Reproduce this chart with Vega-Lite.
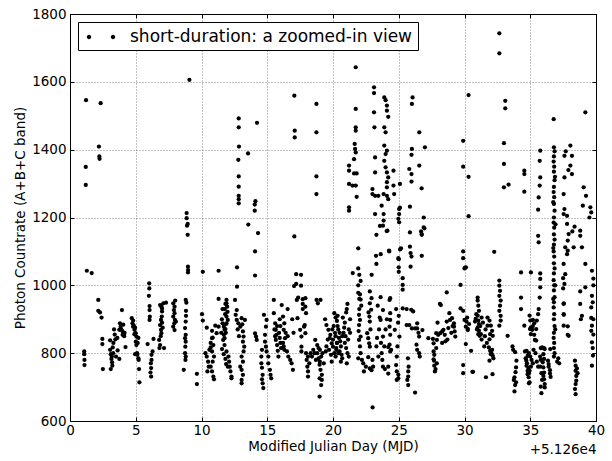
{
"$schema": "https://vega.github.io/schema/vega-lite/v6.json",
"autosize": {"type": "none"},
"width": 526, "height": 407,
"padding": {"left": 70, "top": 14, "right": 16, "bottom": 40},
"background": "white",
"data": {"values": [
{"x":1.08,"y":805},{"x":1.08,"y":797},{"x":1.1,"y":780},{"x":1.1,"y":765},{"x":1.2,"y":1349},{"x":1.2,"y":1296},{"x":1.22,"y":1546},{"x":1.28,"y":1043},{"x":1.65,"y":1036},{"x":2.15,"y":957},{"x":2.15,"y":925},{"x":2.2,"y":1409},{"x":2.23,"y":1380},{"x":2.25,"y":1373},{"x":2.28,"y":920},{"x":2.33,"y":1537},{"x":2.4,"y":905},{"x":2.46,"y":842},{"x":2.46,"y":827},{"x":2.5,"y":753},{"x":3.05,"y":838},{"x":3.05,"y":810},{"x":3.1,"y":797},{"x":3.1,"y":753},{"x":3.15,"y":783},{"x":3.2,"y":773},{"x":3.22,"y":763},{"x":3.25,"y":817},{"x":3.28,"y":800},{"x":3.35,"y":870},{"x":3.4,"y":855},{"x":3.45,"y":841},{"x":3.5,"y":790},{"x":3.75,"y":869},{"x":3.75,"y":783},{"x":3.8,"y":888},{"x":3.85,"y":878},{"x":3.95,"y":927},{"x":4.0,"y":864},{"x":4.0,"y":854},{"x":4.1,"y":856},{"x":4.12,"y":850},{"x":4.22,"y":818},{"x":4.8,"y":896},{"x":4.85,"y":881},{"x":4.9,"y":856},{"x":4.95,"y":797},{"x":4.95,"y":875},{"x":3.3,"y":830},{"x":3.6,"y":845},{"x":3.9,"y":870},{"x":4.05,"y":884},{"x":4.15,"y":860},{"x":3.18,"y":790},{"x":3.62,"y":808},
{"x":4.7,"y":903},{"x":4.75,"y":888},{"x":4.8,"y":878},{"x":4.9,"y":869},{"x":5.0,"y":859},{"x":5.05,"y":849},{"x":5.0,"y":834},{"x":5.05,"y":824},{"x":5.1,"y":800},{"x":5.12,"y":795},{"x":5.2,"y":785},{"x":5.22,"y":780},{"x":5.25,"y":753},{"x":5.28,"y":714},{"x":5.15,"y":830},{"x":5.2,"y":845},{"x":5.9,"y":827},
{"x":6.02,"y":1006},{"x":6.03,"y":991},{"x":6.0,"y":969},{"x":6.05,"y":939},{"x":6.05,"y":927},{"x":6.07,"y":908},{"x":6.05,"y":898},{"x":6.35,"y":842},{"x":6.2,"y":795},{"x":6.2,"y":780},{"x":6.15,"y":770},{"x":6.17,"y":756},{"x":6.12,"y":743},{"x":6.17,"y":731},{"x":6.28,"y":805},
{"x":6.85,"y":942},{"x":6.95,"y":937},{"x":7.0,"y":932},{"x":7.0,"y":923},{"x":6.98,"y":908},{"x":6.92,"y":898},{"x":6.85,"y":883},{"x":6.92,"y":869},{"x":6.95,"y":859},{"x":6.78,"y":839},{"x":6.85,"y":824},{"x":6.8,"y":815},{"x":7.15,"y":815},{"x":7.1,"y":947},{"x":7.3,"y":949},{"x":6.9,"y":850},{"x":7.05,"y":875},{"x":7.0,"y":890},
{"x":7.85,"y":947},{"x":7.95,"y":937},{"x":7.9,"y":927},{"x":7.95,"y":918},{"x":7.85,"y":908},{"x":7.98,"y":898},{"x":7.93,"y":888},{"x":7.85,"y":878},{"x":8.0,"y":955},{"x":8.05,"y":893},{"x":7.95,"y":868},
{"x":8.8,"y":957},{"x":8.85,"y":949},{"x":8.8,"y":893},{"x":8.75,"y":874},{"x":8.8,"y":854},{"x":8.75,"y":844},{"x":8.8,"y":834},{"x":8.77,"y":819},{"x":8.75,"y":800},{"x":8.78,"y":780},{"x":8.65,"y":751},{"x":8.82,"y":925},{"x":8.82,"y":910},{"x":8.8,"y":790},
{"x":8.95,"y":1181},{"x":8.95,"y":1149},{"x":8.97,"y":1055},{"x":8.98,"y":1045},{"x":8.97,"y":1038},{"x":8.87,"y":1213},{"x":8.87,"y":1198},{"x":8.9,"y":1176},{"x":9.08,"y":1606},{"x":9.65,"y":739},{"x":9.65,"y":709},
{"x":10.1,"y":896},{"x":10.1,"y":1040},{"x":10.4,"y":875},{"x":10.4,"y":790},{"x":10.5,"y":775},{"x":10.55,"y":760},{"x":10.45,"y":746},{"x":10.8,"y":844},{"x":10.9,"y":824},{"x":10.8,"y":805},{"x":10.95,"y":790},{"x":10.85,"y":775},{"x":10.7,"y":760},{"x":10.8,"y":746},{"x":10.9,"y":731},{"x":10.95,"y":723},{"x":10.3,"y":800},{"x":10.6,"y":810},{"x":10.7,"y":830},{"x":11.15,"y":859},{"x":11.3,"y":878},{"x":11.3,"y":960},{"x":11.3,"y":1043},{"x":10.04,"y":915},{"x":10.8,"y":866},{"x":11.05,"y":881},{"x":10.85,"y":846},{"x":10.7,"y":817},
{"x":11.55,"y":900},{"x":11.6,"y":888},{"x":11.7,"y":878},{"x":11.75,"y":869},{"x":11.7,"y":854},{"x":11.65,"y":839},{"x":11.75,"y":824},{"x":11.9,"y":805},{"x":11.9,"y":957},{"x":11.9,"y":947},{"x":11.95,"y":937},{"x":11.98,"y":922},{"x":11.9,"y":908},{"x":12.0,"y":898},{"x":11.9,"y":888},{"x":11.75,"y":844},{"x":11.85,"y":860},{"x":11.8,"y":915},{"x":11.6,"y":930},{"x":11.5,"y":860},{"x":11.82,"y":945},{"x":11.77,"y":930},{"x":11.87,"y":886},{"x":11.82,"y":871},{"x":11.69,"y":797},{"x":11.82,"y":783},{"x":11.87,"y":768},{"x":11.56,"y":812},
{"x":12.05,"y":790},{"x":12.1,"y":775},{"x":12.15,"y":760},{"x":12.2,"y":746},{"x":12.28,"y":731},{"x":12.28,"y":726},{"x":12.0,"y":760},
{"x":12.55,"y":957},{"x":12.68,"y":927},{"x":12.6,"y":913},{"x":12.68,"y":898},{"x":12.8,"y":888},{"x":12.95,"y":878},{"x":13.05,"y":903},{"x":13.3,"y":898},{"x":13.15,"y":864},{"x":13.2,"y":849},{"x":13.15,"y":834},{"x":13.25,"y":819},{"x":13.2,"y":805},{"x":13.05,"y":790},{"x":13.15,"y":775},{"x":12.95,"y":760},{"x":13.05,"y":751},{"x":13.15,"y":736},{"x":13.05,"y":721},{"x":13.05,"y":711},{"x":12.7,"y":1053},{"x":12.7,"y":996},{"x":12.75,"y":870},{"x":12.85,"y":850},{"x":13.1,"y":885},
{"x":12.83,"y":1492},{"x":12.83,"y":1466},{"x":12.85,"y":1409},{"x":12.8,"y":1370},{"x":12.83,"y":1321},{"x":12.83,"y":1291},{"x":12.83,"y":1264},{"x":12.83,"y":1254},{"x":12.83,"y":1242},{"x":13.54,"y":1389},{"x":13.56,"y":1179},{"x":14.22,"y":1479},{"x":14.1,"y":1248},{"x":14.05,"y":1238},{"x":14.05,"y":1220},{"x":14.3,"y":1154},{"x":14.07,"y":1100},{"x":14.07,"y":1029},
{"x":14.07,"y":858},{"x":14.15,"y":849},{"x":14.2,"y":839},{"x":14.6,"y":810},{"x":14.55,"y":790},{"x":14.55,"y":770},{"x":14.6,"y":757},{"x":14.65,"y":736},{"x":14.6,"y":723},{"x":14.65,"y":711},{"x":14.7,"y":697},{"x":14.75,"y":913},{"x":14.95,"y":898},{"x":14.9,"y":878},{"x":14.83,"y":854},{"x":14.83,"y":834},{"x":14.9,"y":819},{"x":14.95,"y":805},{"x":15.08,"y":790},{"x":15.08,"y":770},{"x":15.2,"y":751},{"x":15.25,"y":736},{"x":15.3,"y":726},
{"x":15.5,"y":957},{"x":15.5,"y":918},{"x":15.6,"y":888},{"x":15.65,"y":869},{"x":15.7,"y":854},{"x":15.65,"y":839},{"x":15.75,"y":824},{"x":15.8,"y":807},{"x":15.85,"y":790},{"x":15.55,"y":870},{"x":15.6,"y":850},{"x":15.75,"y":880},{"x":15.9,"y":860},{"x":15.95,"y":845},{"x":16.0,"y":830},{"x":16.05,"y":815},{"x":15.95,"y":900},{"x":16.0,"y":880},
{"x":16.1,"y":942},{"x":16.2,"y":908},{"x":16.3,"y":888},{"x":16.25,"y":869},{"x":16.35,"y":844},{"x":16.25,"y":820},{"x":16.5,"y":805},{"x":16.6,"y":790},{"x":16.75,"y":780},{"x":16.85,"y":770},{"x":16.95,"y":751},{"x":16.4,"y":860},{"x":16.55,"y":850},{"x":16.2,"y":830},{"x":16.3,"y":810},{"x":16.55,"y":930},{"x":16.9,"y":900},{"x":17.0,"y":860},
{"x":17.06,"y":1144},{"x":17.06,"y":1559},{"x":17.09,"y":1456},{"x":17.09,"y":1436},{"x":17.2,"y":1033},{"x":17.2,"y":1004},{"x":17.04,"y":998},{"x":17.35,"y":964},{"x":17.25,"y":957},{"x":17.3,"y":903},{"x":17.5,"y":869},{"x":17.6,"y":849},{"x":17.6,"y":819},{"x":17.6,"y":805},{"x":17.57,"y":1031},{"x":17.57,"y":999},{"x":17.7,"y":959},{"x":17.7,"y":945},{"x":17.7,"y":930},
{"x":17.9,"y":962},{"x":17.9,"y":937},{"x":17.95,"y":918},{"x":17.85,"y":883},{"x":17.8,"y":878},{"x":17.9,"y":859},{"x":18.0,"y":780},{"x":18.05,"y":760},{"x":18.1,"y":746},{"x":18.1,"y":731},{"x":17.95,"y":800},{"x":18.1,"y":790},{"x":18.2,"y":770},
{"x":18.74,"y":1535},{"x":18.74,"y":1451},{"x":18.74,"y":1321},{"x":18.74,"y":1269},{"x":18.75,"y":957},{"x":19.05,"y":957},{"x":18.85,"y":947},
{"x":18.65,"y":839},{"x":18.8,"y":824},{"x":18.9,"y":815},{"x":18.8,"y":800},{"x":18.9,"y":785},{"x":19.0,"y":775},{"x":18.98,"y":766},{"x":19.05,"y":751},{"x":19.15,"y":736},{"x":18.98,"y":726},{"x":19.15,"y":721},{"x":19.1,"y":706},{"x":18.98,"y":672},{"x":18.6,"y":800},{"x":18.5,"y":810},{"x":18.4,"y":790},{"x":18.3,"y":800},{"x":18.7,"y":780},{"x":19.0,"y":810},{"x":19.2,"y":800},{"x":19.1,"y":790},{"x":19.3,"y":770},
{"x":19.4,"y":900},{"x":19.5,"y":883},{"x":19.65,"y":869},{"x":19.8,"y":854},{"x":19.75,"y":844},{"x":19.9,"y":829},{"x":20.0,"y":819},{"x":20.1,"y":800},{"x":20.2,"y":790},{"x":19.6,"y":840},{"x":19.5,"y":820},{"x":19.45,"y":805},{"x":19.7,"y":810},{"x":19.95,"y":870},{"x":20.05,"y":880},{"x":20.15,"y":860},{"x":20.0,"y":840},{"x":19.85,"y":795},{"x":20.25,"y":810},{"x":20.3,"y":830},{"x":20.2,"y":850},{"x":19.9,"y":775},
{"x":20.1,"y":918},{"x":20.2,"y":905},{"x":20.3,"y":895},{"x":20.35,"y":880},{"x":20.4,"y":870},{"x":20.5,"y":860},{"x":20.45,"y":845},{"x":20.55,"y":835},{"x":20.6,"y":820},{"x":20.5,"y":805},{"x":20.65,"y":795},{"x":20.7,"y":785},{"x":20.8,"y":860},{"x":20.85,"y":875},{"x":20.9,"y":890},{"x":20.75,"y":905},{"x":21.0,"y":920},{"x":21.05,"y":930},{"x":21.1,"y":945},{"x":20.95,"y":850},{"x":20.9,"y":830},{"x":21.0,"y":815},{"x":21.1,"y":800},{"x":21.2,"y":790},{"x":21.15,"y":840},{"x":21.2,"y":870},{"x":20.3,"y":830},{"x":20.25,"y":815},{"x":20.4,"y":800},{"x":20.6,"y":775},{"x":20.7,"y":850},{"x":21.3,"y":860},{"x":21.3,"y":900},{"x":20.35,"y":910},{"x":21.05,"y":770},
{"x":21.73,"y":1643},{"x":21.73,"y":1520},{"x":21.73,"y":1466},{"x":21.73,"y":1456},{"x":21.65,"y":1417},{"x":21.68,"y":1402},{"x":21.73,"y":1392},{"x":21.6,"y":1372},{"x":21.22,"y":1353},{"x":21.22,"y":1338},{"x":21.6,"y":1330},{"x":21.8,"y":1330},{"x":21.22,"y":1299},{"x":21.48,"y":1294},{"x":21.73,"y":1294},{"x":21.8,"y":1261},{"x":21.22,"y":1230},{"x":21.22,"y":1220},
{"x":21.92,"y":1109},{"x":21.5,"y":1036},{"x":21.92,"y":1050},{"x":22.0,"y":1031},{"x":22.1,"y":1013},{"x":21.92,"y":1000},{"x":21.92,"y":978},{"x":22.05,"y":973},{"x":22.1,"y":958},{"x":22.15,"y":940},{"x":21.98,"y":913},{"x":22.05,"y":898},{"x":21.98,"y":883},{"x":22.1,"y":849},{"x":21.98,"y":839},{"x":21.92,"y":785},{"x":22.2,"y":780},{"x":22.0,"y":960},{"x":22.0,"y":930},{"x":21.95,"y":865},{"x":22.05,"y":820},{"x":22.1,"y":800},
{"x":22.94,"y":1031},{"x":23.01,"y":640},{"x":22.8,"y":982},{"x":22.93,"y":962},{"x":22.8,"y":947},{"x":22.9,"y":928},{"x":22.77,"y":908},{"x":22.8,"y":893},{"x":22.6,"y":859},{"x":22.68,"y":844},{"x":22.75,"y":829},{"x":22.8,"y":819},{"x":22.3,"y":770},{"x":22.35,"y":746},{"x":22.5,"y":760},{"x":22.68,"y":788},{"x":22.8,"y":755},{"x":22.93,"y":750},{"x":23.05,"y":760},{"x":23.0,"y":780},{"x":22.7,"y":920},{"x":22.85,"y":870},
{"x":23.27,"y":1087},{"x":23.57,"y":1175},{"x":23.3,"y":1149},{"x":24.08,"y":1160},{"x":24.28,"y":1100},
{"x":23.12,"y":1584},{"x":23.12,"y":1567},{"x":23.12,"y":1510},{"x":23.15,"y":1466},{"x":23.2,"y":1377},{"x":23.2,"y":1333},{"x":23.0,"y":1284},{"x":23.0,"y":1269},{"x":23.2,"y":1264},{"x":23.45,"y":1264},{"x":23.7,"y":1235},{"x":23.85,"y":1210},{"x":23.2,"y":1210},{"x":23.85,"y":1191},{"x":23.8,"y":1176},
{"x":23.9,"y":1554},{"x":24.0,"y":1546},{"x":24.1,"y":1530},{"x":24.1,"y":1515},{"x":24.2,"y":1497},{"x":23.9,"y":1466},{"x":24.0,"y":1451},{"x":23.9,"y":1412},{"x":24.1,"y":1397},{"x":24.0,"y":1387},{"x":23.9,"y":1367},{"x":24.0,"y":1348},{"x":24.1,"y":1333},{"x":24.2,"y":1318},{"x":24.1,"y":1304},{"x":24.1,"y":1289},{"x":23.85,"y":1269},{"x":24.1,"y":1264},{"x":24.2,"y":1254},
{"x":24.6,"y":1338},{"x":24.6,"y":1294},{"x":24.65,"y":1269},{"x":25.03,"y":1225},{"x":25.03,"y":1210},{"x":24.97,"y":1196},{"x":25.03,"y":1186},{"x":24.26,"y":1102},{"x":23.3,"y":1063},{"x":23.63,"y":1092},{"x":24.14,"y":1161},{"x":25.0,"y":1077},{"x":25.0,"y":1053},{"x":25.0,"y":1040},
{"x":23.62,"y":965},{"x":23.8,"y":927},{"x":23.62,"y":898},{"x":23.8,"y":849},{"x":23.8,"y":760},{"x":23.95,"y":753},{"x":24.2,"y":760},{"x":24.2,"y":740},{"x":24.3,"y":957},{"x":24.35,"y":962},{"x":24.35,"y":918},{"x":24.35,"y":898},{"x":24.3,"y":878},{"x":24.35,"y":854},{"x":24.3,"y":825},{"x":24.42,"y":810},{"x":24.35,"y":805},{"x":24.2,"y":818},{"x":23.7,"y":800},{"x":23.75,"y":780},{"x":23.9,"y":820},{"x":24.0,"y":870},{"x":24.1,"y":900},{"x":23.65,"y":830},{"x":23.5,"y":870},{"x":23.55,"y":905},{"x":23.4,"y":940},{"x":23.45,"y":790},{"x":23.3,"y":820},{"x":23.35,"y":845},
{"x":24.7,"y":869},{"x":24.97,"y":1080},{"x":25.1,"y":1106},{"x":25.17,"y":1109},{"x":25.3,"y":1021},{"x":25.3,"y":1001},{"x":25.3,"y":987},{"x":24.85,"y":790},{"x":24.8,"y":765},{"x":24.85,"y":746},{"x":24.97,"y":736},{"x":24.97,"y":726},{"x":24.85,"y":721},{"x":25.05,"y":849},{"x":24.9,"y":820},{"x":24.95,"y":890},{"x":25.0,"y":910},{"x":24.8,"y":930},
{"x":25.85,"y":1156},{"x":25.85,"y":1114},{"x":25.9,"y":1095},{"x":25.97,"y":1085},{"x":25.9,"y":1055},{"x":26.05,"y":1554},{"x":26.0,"y":1535},{"x":26.56,"y":1451},{"x":26.99,"y":1407},{"x":26.0,"y":1402},{"x":25.97,"y":1385},{"x":25.8,"y":1343},{"x":25.97,"y":1328},{"x":25.97,"y":1306},{"x":26.56,"y":1353},{"x":26.74,"y":1286},{"x":25.09,"y":1299},{"x":26.9,"y":1200},{"x":26.9,"y":1171},{"x":26.74,"y":1151},{"x":25.85,"y":1232},{"x":25.09,"y":1229},
{"x":25.3,"y":932},{"x":25.6,"y":930},{"x":25.95,"y":928},{"x":26.1,"y":923},{"x":25.6,"y":883},{"x":25.8,"y":883},{"x":26.0,"y":873},{"x":26.25,"y":873},{"x":26.4,"y":873},{"x":26.8,"y":868},{"x":26.5,"y":860},{"x":25.7,"y":785},{"x":25.75,"y":760},{"x":25.72,"y":746},{"x":25.72,"y":731},{"x":25.65,"y":721},{"x":25.72,"y":706},{"x":26.24,"y":684},{"x":26.4,"y":888},{"x":26.55,"y":849},{"x":26.35,"y":825},{"x":26.4,"y":810},{"x":26.55,"y":800},{"x":26.6,"y":790},
{"x":26.7,"y":1159},{"x":26.95,"y":1168},{"x":26.75,"y":1149},{"x":26.75,"y":1087},{"x":27.25,"y":844},{"x":27.65,"y":829},{"x":27.9,"y":839},{"x":27.85,"y":815},{"x":27.65,"y":805},{"x":27.7,"y":795},{"x":27.65,"y":782},{"x":27.9,"y":770},{"x":27.75,"y":746},{"x":27.6,"y":842},{"x":27.68,"y":778},{"x":27.8,"y":753},{"x":27.7,"y":763},
{"x":27.95,"y":890},{"x":28.2,"y":942},{"x":27.85,"y":859},{"x":28.0,"y":854},{"x":28.15,"y":859},{"x":28.3,"y":864},{"x":28.4,"y":869},{"x":28.5,"y":854},{"x":28.65,"y":893},{"x":28.65,"y":979},{"x":28.77,"y":874},{"x":28.85,"y":918},{"x":28.9,"y":898},{"x":29.05,"y":903},{"x":29.2,"y":888},{"x":29.2,"y":878},{"x":29.25,"y":864},{"x":29.3,"y":849},{"x":28.13,"y":945},{"x":28.3,"y":830},{"x":28.55,"y":835},{"x":28.7,"y":840},{"x":29.0,"y":860},{"x":29.1,"y":880},
{"x":29.7,"y":1001},{"x":29.9,"y":1100},{"x":30.0,"y":1050},{"x":30.05,"y":1052},{"x":29.9,"y":1426},{"x":29.9,"y":1350},{"x":29.9,"y":1080},{"x":29.7,"y":932},{"x":29.9,"y":925},{"x":30.0,"y":898},{"x":30.1,"y":878},{"x":30.2,"y":905},{"x":30.25,"y":868},{"x":30.15,"y":893},{"x":29.9,"y":765},{"x":29.9,"y":741},{"x":30.6,"y":745},
{"x":32.65,"y":1743},{"x":32.65,"y":1684},{"x":30.31,"y":1561},{"x":33.1,"y":1544},{"x":33.1,"y":1522},{"x":33.0,"y":1419},{"x":33.0,"y":1358},{"x":33.0,"y":1289},{"x":33.35,"y":1297},{"x":34.55,"y":1338},{"x":34.55,"y":1328},{"x":34.55,"y":1276},{"x":30.31,"y":1320},{"x":30.31,"y":1204},{"x":32.26,"y":1099},{"x":30.11,"y":1053},{"x":34.3,"y":1038},{"x":35.05,"y":1038},
{"x":32.65,"y":1014},{"x":32.65,"y":999},{"x":32.7,"y":984},{"x":32.65,"y":969},{"x":32.75,"y":955},{"x":32.7,"y":940},{"x":32.65,"y":925},{"x":32.75,"y":910},{"x":32.75,"y":896},{"x":32.65,"y":881},{"x":34.3,"y":964},{"x":34.3,"y":930},
{"x":31.0,"y":964},{"x":31.0,"y":955},{"x":31.05,"y":940},{"x":31.1,"y":925},{"x":31.0,"y":911},{"x":30.85,"y":901},{"x":31.05,"y":896},{"x":31.1,"y":886},{"x":31.0,"y":876},{"x":31.1,"y":866},{"x":31.05,"y":856},{"x":31.15,"y":851},{"x":31.25,"y":856},{"x":30.95,"y":870},{"x":31.2,"y":880},{"x":31.3,"y":905},{"x":31.4,"y":890},{"x":30.9,"y":915},{"x":30.8,"y":893},{"x":31.3,"y":840},
{"x":31.75,"y":905},{"x":31.9,"y":896},{"x":31.75,"y":881},{"x":32.0,"y":881},{"x":32.1,"y":866},{"x":31.95,"y":856},{"x":32.15,"y":851},{"x":31.9,"y":841},{"x":31.85,"y":817},{"x":31.95,"y":807},{"x":32.0,"y":797},{"x":32.15,"y":792},{"x":31.9,"y":778},{"x":32.05,"y":800},{"x":32.2,"y":785},{"x":32.1,"y":810},{"x":31.6,"y":870},{"x":31.55,"y":850},{"x":31.7,"y":830},{"x":31.5,"y":820},
{"x":30.1,"y":827},{"x":30.5,"y":807},{"x":30.35,"y":886},{"x":30.25,"y":872},{"x":30.65,"y":745},{"x":31.63,"y":729},{"x":32.13,"y":738},{"x":33.28,"y":851},
{"x":33.65,"y":820},{"x":33.7,"y":810},{"x":33.85,"y":803},{"x":33.95,"y":778},{"x":33.92,"y":758},{"x":33.88,"y":744},{"x":33.8,"y":729},{"x":33.92,"y":714},{"x":33.85,"y":706},{"x":33.8,"y":687},{"x":33.75,"y":721},
{"x":34.55,"y":881},{"x":34.72,"y":807},{"x":34.8,"y":792},{"x":34.7,"y":778},{"x":34.72,"y":763},{"x":34.8,"y":748},{"x":34.8,"y":738},{"x":34.95,"y":748},{"x":34.88,"y":729},{"x":34.95,"y":714},{"x":34.95,"y":911},{"x":35.0,"y":896},{"x":35.05,"y":876},{"x":35.05,"y":856},{"x":34.98,"y":871},{"x":34.6,"y":805},{"x":34.65,"y":785},{"x":34.75,"y":770},{"x":34.85,"y":756},{"x":34.9,"y":741},{"x":34.9,"y":711},
{"x":35.2,"y":898},{"x":35.3,"y":888},{"x":35.15,"y":869},{"x":35.3,"y":854},{"x":35.35,"y":839},{"x":35.2,"y":880},{"x":34.9,"y":800},{"x":35.0,"y":790},{"x":35.1,"y":780},{"x":35.2,"y":770},{"x":35.05,"y":760},{"x":35.25,"y":810},{"x":35.4,"y":800},{"x":35.5,"y":775},{"x":35.6,"y":760},
{"x":35.76,"y":1397},{"x":35.72,"y":1367},{"x":35.76,"y":1318},{"x":35.72,"y":1294},{"x":35.64,"y":1259},{"x":35.6,"y":1223},{"x":35.6,"y":1146},{"x":35.64,"y":1127},{"x":35.76,"y":1035},{"x":35.76,"y":1019},{"x":35.76,"y":994},{"x":35.72,"y":964},{"x":35.64,"y":930},{"x":35.6,"y":915},{"x":35.5,"y":896},{"x":35.45,"y":871},{"x":35.45,"y":837},
{"x":35.75,"y":790},{"x":35.8,"y":780},{"x":35.75,"y":760},{"x":35.85,"y":741},{"x":35.9,"y":721},{"x":35.8,"y":701},{"x":35.85,"y":682},{"x":35.8,"y":815},{"x":35.95,"y":815},{"x":36.05,"y":815},{"x":35.9,"y":817},{"x":36.1,"y":812},{"x":36.0,"y":797},{"x":36.05,"y":783},{"x":35.95,"y":773},{"x":36.0,"y":758},{"x":36.05,"y":743},{"x":36.0,"y":733},{"x":36.05,"y":723},{"x":36.1,"y":709},{"x":36.1,"y":699},
{"x":36.52,"y":812},{"x":36.35,"y":778},{"x":36.4,"y":768},{"x":36.4,"y":760},{"x":36.5,"y":750},{"x":36.5,"y":740},{"x":36.55,"y":730},
{"x":36.78,"y":1490},{"x":36.8,"y":1407},{"x":36.85,"y":1395},{"x":36.8,"y":1380},{"x":36.78,"y":1365},{"x":36.82,"y":1350},{"x":36.8,"y":1335},{"x":36.85,"y":1310},{"x":36.8,"y":1290},{"x":36.78,"y":1275},{"x":36.82,"y":1260},{"x":36.8,"y":1240},{"x":36.85,"y":1220},{"x":36.8,"y":1200},{"x":36.78,"y":1185},{"x":36.82,"y":1170},{"x":36.8,"y":1150},{"x":36.85,"y":1135},{"x":36.8,"y":1120},{"x":36.78,"y":1100},{"x":36.82,"y":1085},{"x":36.8,"y":1065},{"x":36.85,"y":1050},{"x":36.8,"y":1035},{"x":36.78,"y":1015},{"x":36.82,"y":1000},{"x":36.8,"y":985},{"x":36.85,"y":965},{"x":36.8,"y":950},{"x":36.78,"y":935},{"x":36.82,"y":915},{"x":36.8,"y":900},{"x":36.85,"y":880},{"x":36.8,"y":860},{"x":36.78,"y":845},{"x":36.82,"y":830},{"x":36.8,"y":815},{"x":36.85,"y":800},{"x":36.8,"y":790},{"x":36.9,"y":870},{"x":36.9,"y":1000},{"x":36.92,"y":1180},{"x":36.88,"y":1320},{"x":36.75,"y":1245},{"x":36.75,"y":1110},{"x":36.75,"y":960},
{"x":37.13,"y":785},{"x":37.05,"y":775},{"x":37.2,"y":770},
{"x":37.5,"y":1021},{"x":37.5,"y":991},{"x":37.55,"y":947},{"x":37.55,"y":913},{"x":37.85,"y":1102},{"x":37.85,"y":879},{"x":37.85,"y":854},
{"x":37.6,"y":1382},{"x":37.6,"y":1318},{"x":37.54,"y":1269},{"x":37.6,"y":1225},{"x":38.05,"y":1412},{"x":38.17,"y":1382},{"x":38.05,"y":1353},{"x":38.17,"y":1328},{"x":37.54,"y":1210},{"x":37.8,"y":1205},{"x":37.8,"y":1181},{"x":37.92,"y":1151},{"x":37.85,"y":1132},{"x":37.66,"y":1112},{"x":37.8,"y":1092},{"x":37.54,"y":1063},{"x":37.66,"y":1033},{"x":37.6,"y":1004},{"x":37.54,"y":945},{"x":37.54,"y":915},{"x":37.54,"y":881},{"x":37.92,"y":851},{"x":37.7,"y":1395},{"x":37.9,"y":1340},
{"x":38.37,"y":1173},{"x":38.2,"y":1159},{"x":38.3,"y":1112},{"x":38.8,"y":1161},{"x":38.8,"y":1146},{"x":38.93,"y":1112},{"x":39.19,"y":1063},{"x":39.69,"y":1043},{"x":39.69,"y":969},{"x":39.64,"y":935},{"x":39.64,"y":904},{"x":39.69,"y":881},{"x":39.64,"y":866},{"x":39.69,"y":832},{"x":39.77,"y":793},{"x":39.69,"y":763},
{"x":39.06,"y":1289},{"x":39.24,"y":1264},{"x":39.0,"y":1235},{"x":39.57,"y":1230},{"x":39.64,"y":1215},{"x":39.5,"y":1200},{"x":39.19,"y":994},{"x":38.93,"y":910},{"x":38.8,"y":945},{"x":38.8,"y":982},{"x":38.85,"y":900},{"x":39.19,"y":1510},{"x":39.8,"y":1020},{"x":39.8,"y":1000},{"x":39.75,"y":950},{"x":39.8,"y":900},{"x":39.8,"y":855},{"x":39.75,"y":815},
{"x":38.4,"y":778},{"x":38.45,"y":763},{"x":38.45,"y":748},{"x":38.5,"y":733},{"x":38.5,"y":719},{"x":38.45,"y":709},{"x":38.4,"y":694},{"x":38.45,"y":679},{"x":38.55,"y":755},{"x":38.6,"y":741}
]},
"layer": [
{
"mark": {"type": "point", "filled": true, "size": 18, "opacity": 1, "color": "black"},
"encoding": {
"x": {"field": "x", "type": "quantitative", "scale": {"domain": [0, 40], "nice": false, "zero": false},
  "axis": {"orient": "bottom", "values": [0,5,10,15,20,25,30,35,40], "format": "d", "grid": true, "tickSize": -4, "labelPadding": 6, "title": "Modified Julian Day (MJD)", "titleY": 29, "titleBaseline": "alphabetic"}},
"y": {"field": "y", "type": "quantitative", "scale": {"domain": [600, 1800], "nice": false, "zero": false},
  "axis": {"orient": "left", "values": [600,800,1000,1200,1400,1600,1800], "format": "d", "grid": true, "tickSize": -4, "labelPadding": 8, "title": "Photon Countrate (A+B+C band)", "titleX": -46, "titleY": 203.5, "titleAngle": 270, "titleAlign": "center", "titleBaseline": "alphabetic"}},
"color": {"datum": "short-duration: a zoomed-in view", "type": "nominal", "scale": {"range": ["black"]}, "legend": {"title": null}}
}
},
{
"mark": {"type": "point", "opacity": 0},
"encoding": {
"x": {"field": "x", "type": "quantitative", "axis": {"orient": "top", "values": [0,5,10,15,20,25,30,35,40], "labels": false, "grid": false, "tickSize": -4, "title": "+5.126e4", "titleX": 526, "titleY": 439, "titleAlign": "right", "titleBaseline": "alphabetic", "titleAnchor": null}},
"y": {"field": "y", "type": "quantitative", "axis": {"orient": "right", "values": [600,800,1000,1200,1400,1600,1800], "labels": false, "grid": false, "tickSize": -4, "title": null}}
}
}
],
"resolve": {"axis": {"x": "independent", "y": "independent"}},
"config": {
"font": "DejaVu Sans",
"view": {"stroke": "black", "strokeWidth": 1},
"axis": {"domain": false, "labelFont": "DejaVu Sans", "labelFontSize": 13.5, "labelColor": "black", "titleFont": "DejaVu Sans", "titleFontSize": 13.5, "titleFontWeight": "normal", "titleColor": "black", "tickColor": "black", "tickWidth": 1, "gridColor": "black", "gridDash": [1, 2], "gridWidth": 0.6, "gridOpacity": 0.8, "labelFlush": false, "labelOverlap": false},
"legend": {"orient": "top-left", "offset": 8, "padding": 5, "strokeColor": "black", "strokeWidth": 1, "fillColor": "white", "cornerRadius": 0, "labelFont": "DejaVu Sans", "labelFontSize": 17, "labelColor": "black", "labelOffset": 27, "labelLimit": 0, "symbolType": "M -0.62 0 A 0.22 0.22 0 1 0 -0.18 0 A 0.22 0.22 0 1 0 -0.62 0 Z M 1.78 0 A 0.22 0.22 0 1 0 2.22 0 A 0.22 0.22 0 1 0 1.78 0 Z", "symbolSize": 400, "symbolFillColor": "black", "symbolStrokeWidth": 0}
}
}
